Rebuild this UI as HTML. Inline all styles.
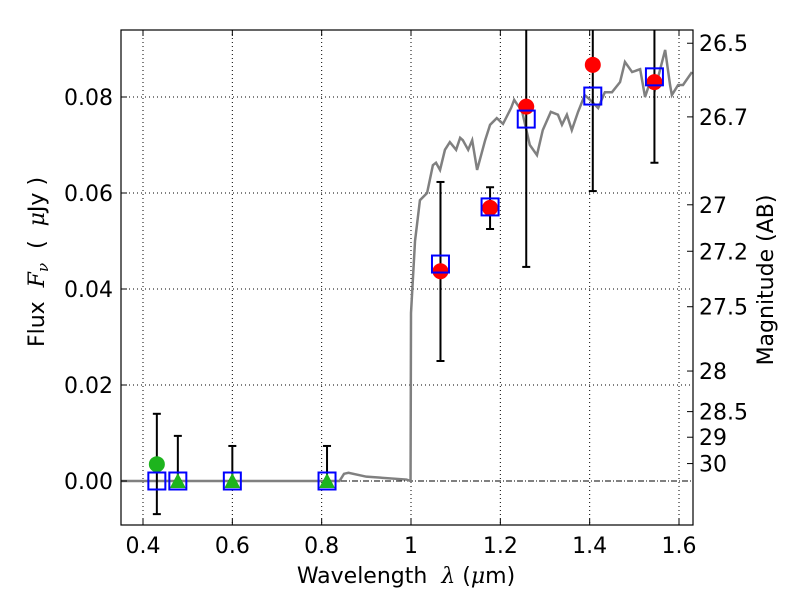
<!DOCTYPE html>
<html><head><meta charset="utf-8"><style>body{margin:0;background:#fff}svg{display:block}text{font-family:"DejaVu Sans","Liberation Sans",sans-serif;fill:#000}</style></head>
<body>
<svg id="c" width="800" height="600" xmlns="http://www.w3.org/2000/svg"></svg>
<script>
const xTicks=[0.4,0.6,0.8,1.0,1.2,1.4,1.6];
const xTickLabels=["0.4","0.6","0.8","1","1.2","1.4","1.6"];
const yTicks=[0,0.02,0.04,0.06,0.08];
const yTickLabels=["0.00","0.02","0.04","0.06","0.08"];
const magTicks=[26.5,26.7,27,27.2,27.5,28,28.5,29,30];
const magLabels=["26.5","26.7","27","27.2","27.5","28","28.5","29","30"];
const specLam=[0.35,0.84,0.85,0.86,0.90,0.99,0.999,1.0,1.009,1.020,1.036,1.049,1.056,1.065,1.076,1.087,1.101,1.110,1.116,1.128,1.137,1.148,1.166,1.177,1.192,1.206,1.224,1.231,1.239,1.248,1.266,1.282,1.295,1.313,1.329,1.338,1.349,1.360,1.374,1.389,1.401,1.419,1.434,1.450,1.468,1.479,1.495,1.513,1.524,1.535,1.546,1.569,1.580,1.584,1.598,1.609,1.629];
const specFlux=[0,0,0.0015,0.0017,0.0009,0.0003,0,0.035,0.050,0.0585,0.060,0.0658,0.0663,0.0648,0.0690,0.0706,0.0690,0.0715,0.0710,0.0690,0.0710,0.0648,0.0710,0.0742,0.0756,0.0744,0.0777,0.0794,0.0783,0.0773,0.0700,0.0679,0.0731,0.0769,0.0763,0.0742,0.0763,0.0731,0.0769,0.0804,0.0794,0.0777,0.0810,0.0810,0.0831,0.0873,0.0852,0.0858,0.0800,0.0831,0.0815,0.0898,0.0825,0.0804,0.0825,0.0825,0.0852];
const redLam=[1.066,1.177,1.258,1.407,1.545];
const redFlux=[0.0437,0.0569,0.0780,0.0867,0.0831];
const redLo=[0.0250,0.0525,0.0446,0.0604,0.0663];
const redHi=[0.0623,0.0612,0.11,0.11,0.11];
const blueLam=[0.431,0.478,0.600,0.812,1.066,1.177,1.258,1.407,1.545];
const blueFlux=[0,0,0,0,0.0452,0.0571,0.0754,0.0802,0.0842];
const greenCircLam=[0.431];const greenCircFlux=[0.0035];
const greenLo=[-0.0069];const greenHi=[0.014];
const triLam=[0.478,0.600,0.812];const triFlux=[0,0,0];
const triLo=[0,0,0];const triHi=[0.0094,0.0073,0.0073];

const L=121,R=693,T=30,B=525;
const xS=v=>143+(v-0.4)*446.67;
const yS=v=>481-v*4800;
const magY=m=>yS(Math.pow(10,(23.9-m)/2.5));
const svg=document.getElementById('c');const NS='http://www.w3.org/2000/svg';
function el(t,a,p){const e=document.createElementNS(NS,t);for(const k in a)e.setAttribute(k,a[k]);(p||svg).appendChild(e);return e;}
const defs=el('defs',{});const cp=el('clipPath',{id:'cp'},defs);el('rect',{x:L,y:T,width:R-L,height:B-T},cp);
xTicks.forEach(v=>{const g=el('line',{x1:xS(v),x2:xS(v),y1:T,y2:B,stroke:'#000','stroke-width':1,'stroke-dasharray':'1,3'});

});
yTicks.forEach(v=>{if(v===0)return;const g=el('line',{x1:L,x2:R,y1:yS(v),y2:yS(v),stroke:'#000','stroke-width':1,'stroke-dasharray':'1,3'});

});
const z=el('line',{x1:L,x2:R,y1:yS(0),y2:yS(0),stroke:'#000','stroke-width':1,'stroke-dasharray':'6,2,1,2'});


const G=el('g',{'clip-path':'url(#cp)'});
const sp=el('polyline',{points:specLam.map((l,i)=>xS(l)+','+yS(specFlux[i])).join(' '),fill:'none',stroke:'#808080','stroke-width':2.5},G);


function ebar(l,lo,hi,name){const x=xS(l),g=el('g',{stroke:'#000','stroke-width':2},G);


el('line',{x1:x,x2:x,y1:yS(lo),y2:yS(hi)},g);el('line',{x1:x-4,x2:x+4,y1:yS(lo),y2:yS(lo)},g);el('line',{x1:x-4,x2:x+4,y1:yS(hi),y2:yS(hi)},g);}
redLam.forEach((l,i)=>ebar(l,redLo[i],redHi[i],'red-error-bar'));
greenCircLam.forEach((l,i)=>ebar(l,greenLo[i],greenHi[i],'green-error-bar'));
triLam.forEach((l,i)=>ebar(l,triLo[i],triHi[i],'triangle-error-bar'));
greenCircLam.forEach((l,i)=>{const c=el('circle',{cx:xS(l),cy:yS(greenCircFlux[i]),r:8,fill:'#1db41d'},G);

});
triLam.forEach((l,i)=>{const x=xS(l),y=yS(triFlux[i]);const t=el('polygon',{points:`${x-8},${y+7} ${x+8},${y+7} ${x},${y-8}`,fill:'#1db41d'},G);

});
redLam.forEach((l,i)=>{const c=el('circle',{cx:xS(l),cy:yS(redFlux[i]),r:8,fill:'#ff0000'},G);

});
blueLam.forEach((l,i)=>{const r=el('rect',{x:xS(l)-8.5,y:yS(blueFlux[i])-8.5,width:17,height:17,fill:'none',stroke:'#0000ff','stroke-width':2},G);

});
const fr=el('rect',{x:L,y:T,width:R-L,height:B-T,fill:'none',stroke:'#000','stroke-width':1.2});


xTicks.forEach((v,i)=>{const x=xS(v);el('line',{x1:x,x2:x,y1:B,y2:B-6,stroke:'#000'});el('line',{x1:x,x2:x,y1:T,y2:T+6,stroke:'#000'});
const t=el('text',{x:x,y:B+28,'text-anchor':'middle','font-size':22});t.textContent=xTickLabels[i];

});
yTicks.forEach((v,i)=>{const y=yS(v);el('line',{x1:L,x2:L+6,y1:y,y2:y,stroke:'#000'});
const t=el('text',{x:L-8,y:y+8,'text-anchor':'end','font-size':22});t.textContent=yTickLabels[i];

});
magTicks.forEach((m,i)=>{const y=magY(m);el('line',{x1:R,x2:R-6,y1:y,y2:y,stroke:'#000'});
const t=el('text',{x:R+6,y:y+8,'font-size':22});t.textContent=magLabels[i];

});
</script>
<svg style="position:absolute;left:0;top:0" width="800" height="600" xmlns="http://www.w3.org/2000/svg">
<text x="406" y="583" text-anchor="middle" font-size="22" xml:space="preserve">Wavelength  <tspan font-style="italic" font-family="DejaVu Serif,serif">λ</tspan> (<tspan font-style="italic" font-family="DejaVu Serif,serif">μ</tspan>m)</text>
<text transform="translate(44,262) rotate(-90)" text-anchor="middle" font-size="22" xml:space="preserve">Flux  <tspan font-style="italic" font-family="DejaVu Serif,serif">F</tspan><tspan font-style="italic" font-size="15" dy="4" font-family="DejaVu Serif,serif">ν</tspan><tspan dy="-4">  (  </tspan><tspan font-style="italic" font-family="DejaVu Serif,serif">μ</tspan>Jy )</text>
<text transform="translate(773,280) rotate(-90)" text-anchor="middle" font-size="22">Magnitude (AB)</text>
</svg>
</body></html>
